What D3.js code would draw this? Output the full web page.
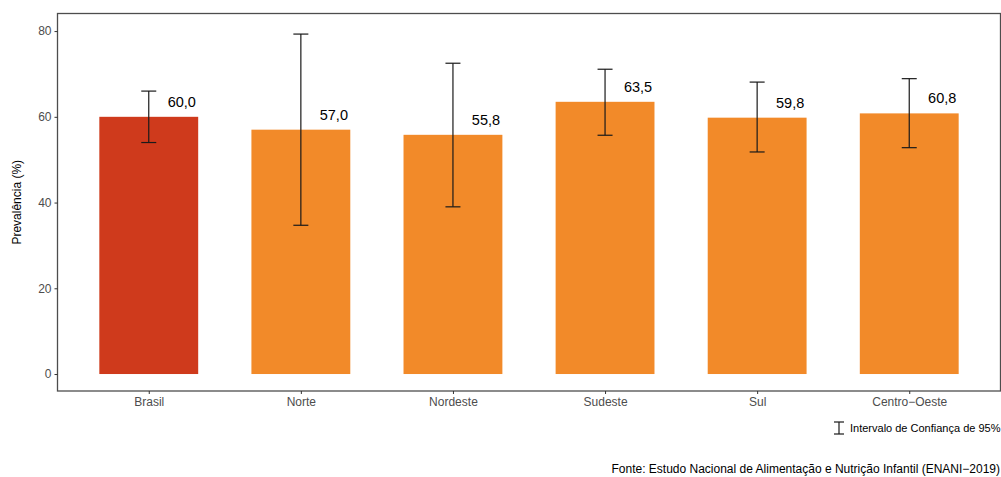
<!DOCTYPE html>
<html>
<head>
<meta charset="utf-8">
<script src="https://cdn.jsdelivr.net/npm/d3@7"></script>
<style>
  html, body { margin: 0; padding: 0; background: #fff; }
  svg { display: block; font-family: "Liberation Sans", Arial, sans-serif; }
</style>
</head>
<body>
<svg id="chart" width="1001" height="477"></svg>
<script>
// Prevalência por região, com intervalos de confiança de 95%
const regions = ["Brasil", "Norte", "Nordeste", "Sudeste", "Sul", "Centro\u2212Oeste"];
const prevalence = [60.0, 57.0, 55.8, 63.5, 59.8, 60.8];
const ciLower = [54.0, 34.7, 39.0, 55.7, 51.8, 52.8];
const ciUpper = [66.0, 79.3, 72.5, 71.1, 68.1, 68.9];
const yTicks = [0, 20, 40, 60, 80];
const barColors = ["#CF3A1C", "#F28A29", "#F28A29", "#F28A29", "#F28A29", "#F28A29"];

const fmt = v => v.toFixed(1).replace(".", ",");

const svg = d3.select("#chart");
const panel = { left: 57.5, right: 1000.5, top: 13.5, bottom: 391 };

// discrete x positions with ggplot-like 0.6 expansion on each side
const x = d3.scaleLinear()
  .domain([0.4, regions.length + 0.6])
  .range([panel.left, panel.right]);
const barWidth = (x(2) - x(1)) * 0.65;

const y = d3.scaleLinear()
  .domain([-3.96, 84.1])
  .range([panel.bottom, panel.top]);

const data = regions.map((r, i) => ({
  region: r, value: prevalence[i], lo: ciLower[i], hi: ciUpper[i], color: barColors[i], pos: i + 1
}));

// bars
svg.append("g").selectAll("rect")
  .data(data)
  .join("rect")
  .attr("x", d => x(d.pos) - barWidth / 2)
  .attr("width", barWidth)
  .attr("y", d => y(d.value))
  .attr("height", d => y(0) - y(d.value))
  .attr("fill", d => d.color);

// error bars
const capHalf = 7.5;
const eb = svg.append("g").attr("stroke", "#1a1a1a").attr("stroke-width", 1.2).attr("fill", "none");
data.forEach(d => {
  const cx = x(d.pos);
  eb.append("line").attr("x1", cx).attr("x2", cx).attr("y1", y(d.hi)).attr("y2", y(d.lo));
  eb.append("line").attr("x1", cx - capHalf).attr("x2", cx + capHalf).attr("y1", y(d.hi)).attr("y2", y(d.hi));
  eb.append("line").attr("x1", cx - capHalf).attr("x2", cx + capHalf).attr("y1", y(d.lo)).attr("y2", y(d.lo));
});

// value labels
svg.append("g").selectAll("text")
  .data(data)
  .join("text")
  .attr("x", d => x(d.pos) + 33)
  .attr("y", d => y(d.value) - 10)
  .attr("text-anchor", "middle")
  .attr("font-size", "14.5px")
  .attr("fill", "#000")
  .text(d => fmt(d.value));

// panel border
svg.append("rect")
  .attr("x", panel.left).attr("y", panel.top)
  .attr("width", panel.right - panel.left).attr("height", panel.bottom - panel.top)
  .attr("fill", "none").attr("stroke", "#4d4d4d").attr("stroke-width", 1.3);

// y axis
const yAxis = svg.append("g")
  .attr("transform", `translate(${panel.left},0)`)
  .call(d3.axisLeft(y).tickValues(yTicks).tickSize(3).tickPadding(3).tickFormat(d3.format("d")));
yAxis.select(".domain").remove();
yAxis.selectAll("line").attr("stroke", "#333");
yAxis.selectAll("text").attr("font-size", "12px").attr("fill", "#4d4d4d").attr("font-family", "Liberation Sans, Arial, sans-serif");

// x axis
const xAxis = svg.append("g")
  .attr("transform", `translate(0,${panel.bottom})`)
  .call(d3.axisBottom(x).tickValues(data.map(d => d.pos)).tickSize(3).tickPadding(3)
    .tickFormat((d, i) => regions[i]));
xAxis.select(".domain").remove();
xAxis.selectAll("line").attr("stroke", "#333");
xAxis.selectAll("text").attr("font-size", "12px").attr("fill", "#4d4d4d").attr("font-family", "Liberation Sans, Arial, sans-serif");

// y axis title
svg.append("text")
  .attr("transform", `translate(21,${(panel.top + panel.bottom) / 2}) rotate(-90)`)
  .attr("text-anchor", "middle")
  .attr("font-size", "12px")
  .attr("fill", "#000")
  .text("Prevalência (%)");

// legend for the confidence interval
const lg = svg.append("g").attr("transform", "translate(839,428)");
lg.append("line").attr("x1", 0).attr("x2", 0).attr("y1", -6).attr("y2", 6).attr("stroke", "#1a1a1a").attr("stroke-width", 1.2);
lg.append("line").attr("x1", -5).attr("x2", 5).attr("y1", -6).attr("y2", -6).attr("stroke", "#1a1a1a").attr("stroke-width", 1.2);
lg.append("line").attr("x1", -5).attr("x2", 5).attr("y1", 6).attr("y2", 6).attr("stroke", "#1a1a1a").attr("stroke-width", 1.2);
lg.append("text")
  .attr("x", 11).attr("y", 4)
  .attr("font-size", "11px")
  .attr("fill", "#000")
  .text("Intervalo de Confiança de 95%");

// caption
svg.append("text")
  .attr("x", 1000).attr("y", 473)
  .attr("text-anchor", "end")
  .attr("font-size", "12px")
  .attr("fill", "#000")
  .text("Fonte: Estudo Nacional de Alimentação e Nutrição Infantil (ENANI\u22122019)");
</script>
</body>
</html>
